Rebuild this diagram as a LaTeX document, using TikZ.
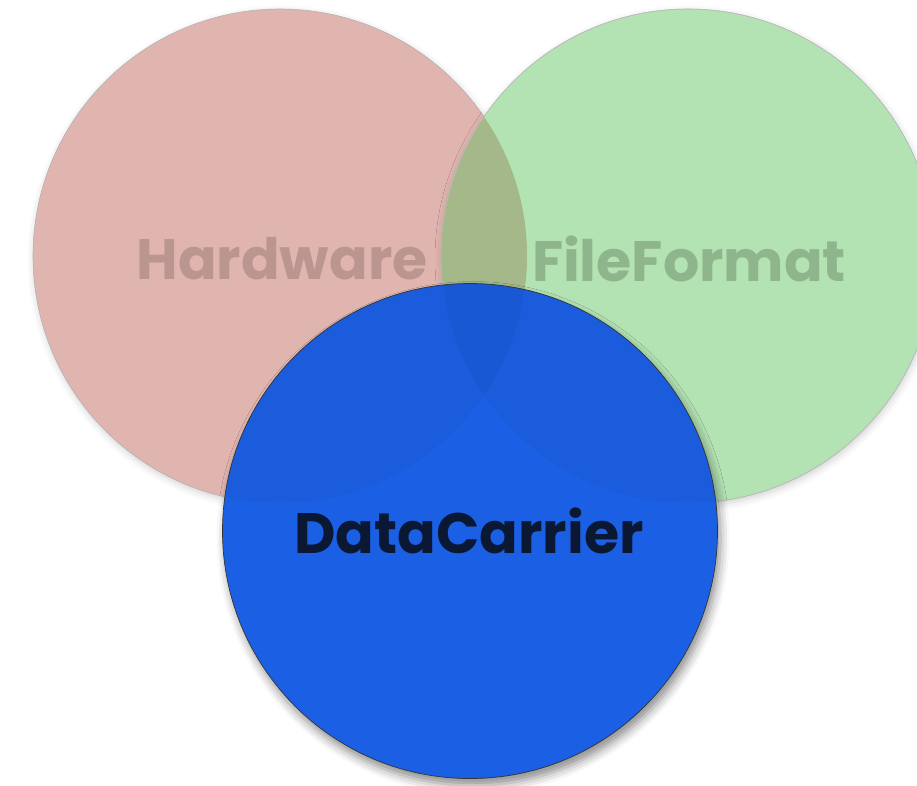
\documentclass[tikz,border=0pt]{standalone}
\usepackage{fontspec}
\setmainfont{Poppins}[BoldFont={* Bold}]
\usetikzlibrary{shadows.blur}

\definecolor{hwfill}{RGB}{224,181,176}
\definecolor{hwtext}{RGB}{187,150,144}
\definecolor{fffill}{RGB}{179,226,179}
\definecolor{fftext}{RGB}{143,181,140}
\definecolor{lensfill}{RGB}{165,184,137}
\definecolor{dcfill}{RGB}{27,96,228}
\definecolor{dctext}{RGB}{10,24,51}

\tikzset{
  setcircle/.style={circle, inner sep=0pt, minimum size=494pt},
  softshadow/.style={blur shadow={shadow xshift=1pt, shadow yshift=-3pt,
      shadow blur radius=7pt, shadow opacity=18}},
  deepshadow/.style={blur shadow={shadow xshift=3pt, shadow yshift=-7pt,
      shadow blur radius=9pt, shadow opacity=45}},
  settext/.style={font=\bfseries\fontsize{57}{60}\selectfont, inner sep=0pt}
}

\begin{document}
\begin{tikzpicture}[x=1pt, y=-1pt]
  \useasboundingbox (0,0) rectangle (917,785);

  % hardware and file format sets
  \node[setcircle, softshadow, fill=hwfill, draw=black!30, line width=0.6pt]
    (hw) at (280,256) {};
  \node[setcircle, softshadow, fill=fffill, draw=black!30, line width=0.6pt]
    (ff) at (688,256) {};

  % their overlap
  \begin{scope}
    \clip (hw.center) circle[radius=247pt];
    \fill[lensfill] (ff.center) circle[radius=247pt];
  \end{scope}
  \draw[black!25, line width=0.4pt] (ff.center) circle[radius=247pt];

  \node[settext, text=hwtext] (hwlabel) at (282,259) {Hardware};
  \node[settext, text=fftext] (fflabel) at (689,259) {FileFormat};

  % data carrier set on top, slightly darker where it covers the others
  \node[setcircle, deepshadow, fill=dcfill, minimum size=495pt]
    (dc) at (470,531) {};
  \begin{scope}
    \clip (dc.center) circle[radius=247.5pt];
    \fill[black, opacity=0.035] (hw.center) circle[radius=247pt];
    \fill[black, opacity=0.035] (ff.center) circle[radius=247pt];
  \end{scope}
  \draw[black!80, line width=0.7pt] (dc.center) circle[radius=247.5pt];
  \node[settext, text=dctext] (dclabel) at (469,531) {DataCarrier};
\end{tikzpicture}
\end{document}
